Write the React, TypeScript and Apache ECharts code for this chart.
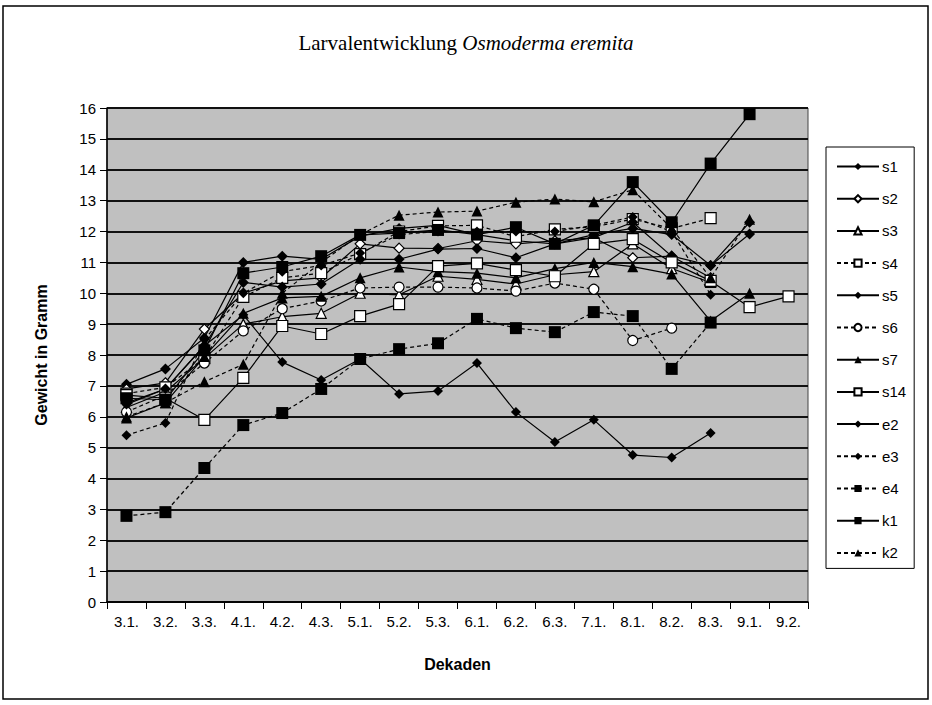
import React, { useEffect, useRef } from "react";
import * as echarts from "echarts";

const categories = ["3.1.", "3.2.", "3.3.", "4.1.", "4.2.", "4.3.", "5.1.", "5.2.", "5.3.", "6.1.", "6.2.", "6.3.", "7.1.", "8.1.", "8.2.", "8.3.", "9.1.", "9.2."];

const s1 = [7.05, 7.55, 8.55, 11.0, 11.2, 11.1, 11.85, 12.1, 12.2, 11.9, 11.7, 11.6, 11.9, 12.1, 11.9, 10.9, 12.3, null];
const s2 = [6.9, 7.1, 8.84, 10.0, 10.4, 10.5, 11.6, 11.46, 11.45, 11.7, 11.6, 11.7, 11.8, 11.15, 11.2, 10.5, null, null];
const s3 = [6.3, 6.8, 7.9, 9.0, 9.24, 9.35, 10.0, 9.95, 10.55, 10.45, 10.3, 10.6, 10.7, 11.6, 10.8, 10.35, null, null];
const s4 = [6.75, 6.95, 7.9, 9.88, 10.5, 10.65, 11.27, 12.0, 12.18, 12.2, 11.83, 12.07, 12.15, 12.4, 12.1, 12.43, null, null];
const s5 = [6.45, 6.9, 8.3, 10.35, 10.2, 10.3, 11.1, 11.1, 11.43, 11.45, 11.15, 11.6, 11.8, 12.3, 11.2, 10.9, 11.92, null];
const s6 = [6.15, 6.7, 7.74, 8.78, 9.5, 9.75, 10.17, 10.2, 10.2, 10.17, 10.07, 10.33, 10.13, 8.47, 8.87, null, null, null];
const s7 = [5.96, 6.45, 7.95, 9.35, 9.85, 9.9, 10.5, 10.85, 10.7, 10.65, 10.5, 10.8, 11.0, 10.86, 10.62, 9.1, 10.0, null];
const s14 = [6.7, 6.6, 5.9, 7.26, 8.94, 8.68, 9.26, 9.65, 10.88, 10.97, 10.75, 10.55, 11.6, 11.75, 11.0, 10.4, 9.55, 9.9];
const e2 = [6.4, 6.9, 8.3, 9.3, 7.77, 7.19, 7.87, 6.74, 6.83, 7.74, 6.15, 5.18, 5.9, 4.76, 4.68, 5.47, null, null];
const e3 = [5.4, 5.8, 8.5, 10.0, 10.7, 10.9, 11.3, 11.9, 12.0, 12.0, 12.0, 12.0, 12.2, 12.47, 12.0, 9.95, null, null];
const e4 = [2.79, 2.91, 4.34, 5.73, 6.12, 6.9, 7.87, 8.19, 8.38, 9.17, 8.87, 8.74, 9.39, 9.26, 7.55, 9.05, null, null];
const k1 = [6.6, 6.55, 8.15, 10.65, 10.85, 11.2, 11.89, 11.95, 12.05, 11.9, 12.14, 11.6, 12.2, 13.6, 12.3, 14.2, 15.8, null];
const k2 = [6.0, 6.45, 7.13, 7.7, 10.0, 11.0, 11.9, 12.53, 12.63, 12.66, 12.95, 13.05, 12.96, 13.35, 12.1, 10.5, 12.4, null];

const yTicks = { min: 0, max: 16, interval: 1 };

type Def = { name: string; data: (number | null)[]; symbol: string; size: number; filled: boolean; dashed: boolean };

const defs: Def[] = [
  { name: "s1", data: s1, symbol: "diamond", size: 11, filled: true, dashed: false },
  { name: "s2", data: s2, symbol: "diamond", size: 10, filled: false, dashed: false },
  { name: "s3", data: s3, symbol: "triangle", size: 10, filled: false, dashed: false },
  { name: "s4", data: s4, symbol: "rect", size: 11, filled: false, dashed: true },
  { name: "s5", data: s5, symbol: "diamond", size: 11, filled: true, dashed: false },
  { name: "s6", data: s6, symbol: "circle", size: 10, filled: false, dashed: true },
  { name: "s7", data: s7, symbol: "triangle", size: 11, filled: true, dashed: false },
  { name: "s14", data: s14, symbol: "rect", size: 11, filled: false, dashed: false },
  { name: "e2", data: e2, symbol: "diamond", size: 10, filled: true, dashed: false },
  { name: "e3", data: e3, symbol: "diamond", size: 10, filled: true, dashed: true },
  { name: "e4", data: e4, symbol: "rect", size: 12, filled: true, dashed: true },
  { name: "k1", data: k1, symbol: "rect", size: 12, filled: true, dashed: false },
  { name: "k2", data: k2, symbol: "triangle", size: 11, filled: true, dashed: true },
];

export default function App() {
  const ref = useRef<HTMLDivElement>(null);
  useEffect(() => {
    document.body.style.margin = "0";
    const chart = echarts.init(ref.current!, null, { renderer: "svg" });
    const font = "Liberation Sans";
    chart.setOption({
      animation: false,
      backgroundColor: "#fff",
      textStyle: { fontFamily: font, color: "#000" },
      title: {
        text: "{a|Larvalentwicklung }{b|Osmoderma eremita}",
        left: "center",
        top: 27,
        textStyle: {
          fontWeight: "normal",
          rich: {
            a: { fontFamily: "Liberation Serif", fontSize: 21, fontWeight: "normal", color: "#000" },
            b: { fontFamily: "Liberation Serif", fontSize: 21, fontWeight: "normal", fontStyle: "italic", color: "#000" },
          },
        },
      },
      graphic: [
        {
          type: "rect",
          shape: { x: 3, y: 6, width: 925, height: 693 },
          style: { fill: "none", stroke: "#000", lineWidth: 1.5 },
          silent: true,
          z: 100,
        },
      ],
      legend: {
        orient: "vertical",
        left: 826,
        top: 147,
        padding: [12, 8, 8, 10],
        itemWidth: 42,
        itemHeight: 9,
        itemGap: 17.2,
        backgroundColor: "#fff",
        borderColor: "#000",
        borderWidth: 1,
        textStyle: { fontFamily: font, fontSize: 15, color: "#000", padding: [0, 0, 0, -2] },
        data: defs.map((d) => d.name),
      },
      grid: {
        left: 107,
        top: 108,
        width: 701,
        height: 494,
        show: true,
        backgroundColor: "#c0c0c0",
        borderColor: "#444",
        borderWidth: 1,
      },
      xAxis: {
        type: "category",
        data: categories,
        boundaryGap: true,
        name: "Dekaden",
        nameLocation: "middle",
        nameGap: 54,
        nameTextStyle: { fontFamily: font, fontSize: 16, fontWeight: "bold", color: "#000" },
        axisLine: { lineStyle: { color: "#000", width: 1.5 } },
        axisTick: { show: true, length: 7, lineStyle: { color: "#000" } },
        axisLabel: { fontFamily: font, fontSize: 15, color: "#000", margin: 12 },
      },
      yAxis: {
        type: "value",
        min: yTicks.min,
        max: yTicks.max,
        interval: yTicks.interval,
        name: "Gewicht in Gramm",
        nameLocation: "middle",
        nameGap: 58,
        nameTextStyle: { fontFamily: font, fontSize: 16, fontWeight: "bold", color: "#000" },
        axisLine: { show: true, lineStyle: { color: "#000", width: 1.5 } },
        axisTick: { show: true, length: 7, lineStyle: { color: "#000" } },
        axisLabel: { fontFamily: font, fontSize: 15, color: "#000", margin: 11 },
        splitLine: { show: true, lineStyle: { color: "#111", width: 2 } },
      },
      series: defs.map((d) => ({
        name: d.name,
        type: "line",
        data: d.data,
        symbol: d.symbol,
        symbolSize: d.size,
        showSymbol: true,
        connectNulls: false,
        itemStyle: {
          color: d.filled ? "#000" : "#fff",
          borderColor: "#000",
          borderWidth: d.filled ? 0 : 1.2,
        },
        lineStyle: { color: "#000", width: 1.2, type: d.dashed ? [4, 3] : "solid" },
        emphasis: { disabled: true },
      })),
    });
    return () => chart.dispose();
  }, []);
  return <div ref={ref} style={{ width: 932, height: 705 }} />;
}
